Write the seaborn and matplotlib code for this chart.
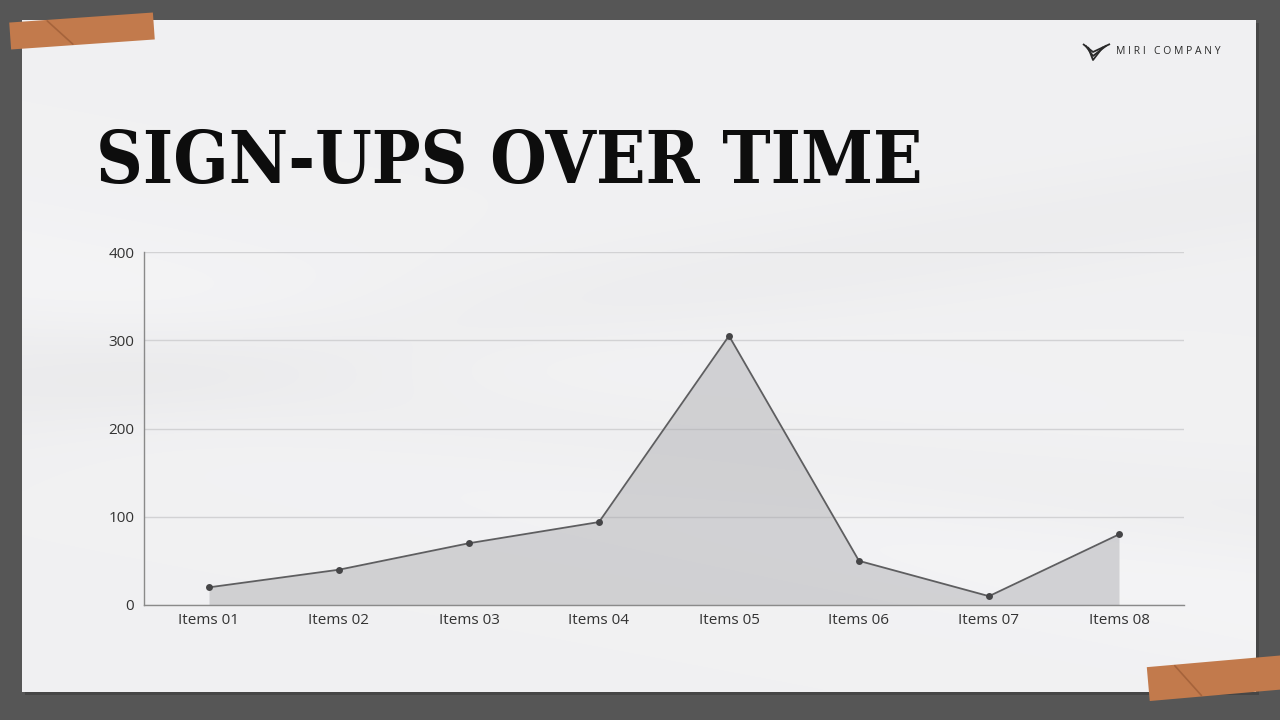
import numpy as np
import pandas as pd
import matplotlib
matplotlib.use("Agg")
import matplotlib.pyplot as plt
from matplotlib.patches import Rectangle
from matplotlib.transforms import Affine2D
import seaborn as sns

categories = ["Items 01", "Items 02", "Items 03", "Items 04",
              "Items 05", "Items 06", "Items 07", "Items 08"]
signups = [20, 40, 70, 94, 305, 50, 10, 80]
y_ticks = [0, 100, 200, 300, 400]

sns.set_theme(style="white")
plt.rcParams['font.family'] = ['Open Sans', 'DejaVu Sans']

W, H = 1280, 720
fig = plt.figure(figsize=(12.8, 7.2), dpi=100)
fig.patch.set_facecolor("#565656")

def fx(px):
    return px / W

def fy(py):
    return 1 - py / H

# paper shadow + paper
fig.patches.append(Rectangle((fx(25), fy(695)), fx(1234), 672 / H,
                             transform=fig.transFigure, facecolor="#3c3c3c",
                             edgecolor="none", zorder=-2, alpha=0.6))
bg = fig.add_axes([fx(22), fy(692), fx(1234), 672 / H], zorder=0)
yy, xx = np.mgrid[0:1:200j, 0:1:400j]
shade = 0.945 + 0.02 * np.exp(-((yy - 0.55 - 0.35 * (xx - 0.3)) ** 2) / 0.02) \
        - 0.025 * np.exp(-((yy - 0.62 - 0.25 * (xx - 0.5)) ** 2) / 0.008) \
        - 0.015 * np.exp(-((yy - 0.35 + 0.3 * (xx - 0.7)) ** 2) / 0.006)
shade = np.clip(shade, 0, 0.99)
rgb = np.dstack([shade, shade, np.clip(shade + 0.006, 0, 1)])
bg.imshow(rgb, aspect="auto", extent=[0, 1, 0, 1], origin="upper", interpolation="bicubic")
bg.set_xlim(0, 1); bg.set_ylim(0, 1)
bg.set_axis_off()

# tapes
def tape(cx, cy, w, h, ang, fold):
    t = Affine2D().rotate_deg(ang).translate(cx, H - cy)
    tr = t + Affine2D().scale(1 / W, 1 / H) + fig.transFigure
    fig.patches.append(Rectangle((-w / 2, -h / 2), w, h, facecolor="#c27a4c",
                                 edgecolor="none", zorder=10, transform=tr))
    fig.lines.append(matplotlib.lines.Line2D([fold - 12, fold + 12], [h / 2 - 1, -h / 2 + 1],
                                             color="#9a5a34", lw=1.2, alpha=0.7,
                                             transform=tr, zorder=11))

tape(82, 31, 144, 27, 4, -22)
tape(1218, 678, 140, 34, 5, -30)

# title
fig.text(fx(96), fy(163), "SIGN-UPS OVER TIME", fontsize=52, fontweight="bold",
         fontstretch="condensed",
         family=["DejaVu Serif", "DejaVu Sans"], color="#0d0d0d", va="center", ha="left")

# logo (pixel units)
lx = fig.add_axes([fx(1082), fy(62), fx(30), 20 / H], zorder=3)
lx.set_xlim(0, 30); lx.set_ylim(0, 20); lx.set_axis_off()
for i in range(3):
    lx.plot([1 + 2.5 * i, 11, 28 - 3.5 * i], [18 - 1.5 * i, 10 - 4 * i, 18 - 1.5 * i],
            color="#2a2a2a", lw=1.3, solid_capstyle="butt")
fig.text(fx(1116), fy(51), "M I R I   C O M P A N Y", fontsize=7.5, color="#2a2a2a",
         va="center", ha="left")

# chart
ax = fig.add_axes([fx(144), fy(605), fx(1184 - 144), (605 - 252) / H], zorder=2)
ax.patch.set_alpha(0)
df = pd.DataFrame({"x": np.arange(len(categories)), "y": signups})
ax.fill_between(df["x"], 0, df["y"], color="#a9a9ad", alpha=0.45, linewidth=0, zorder=1)
sns.lineplot(data=df, x="x", y="y", ax=ax, color="#5e5e60", linewidth=1.3,
             marker="o", markersize=5, markeredgewidth=0, markerfacecolor="#454547", zorder=3)
ax.set_xlim(-0.5, 7.5)
ax.set_ylim(0, 400)
ax.set_yticks(y_ticks)
ax.set_xticks(df["x"])
ax.set_xticklabels(categories)
ax.set_xlabel("")
ax.set_ylabel("")
ax.yaxis.grid(True, color="#d2d2d4", linewidth=1)
ax.set_axisbelow(True)
for s in ["top", "right"]:
    ax.spines[s].set_visible(False)
for s in ["left", "bottom"]:
    ax.spines[s].set_color("#8a8a8a")
    ax.spines[s].set_linewidth(1)
ax.tick_params(axis="both", length=0, labelsize=11, labelcolor="#333333")
ax.tick_params(axis="x", pad=6)
ax.tick_params(axis="y", pad=7)

fig.savefig("out.png", dpi=100, facecolor=fig.get_facecolor())
